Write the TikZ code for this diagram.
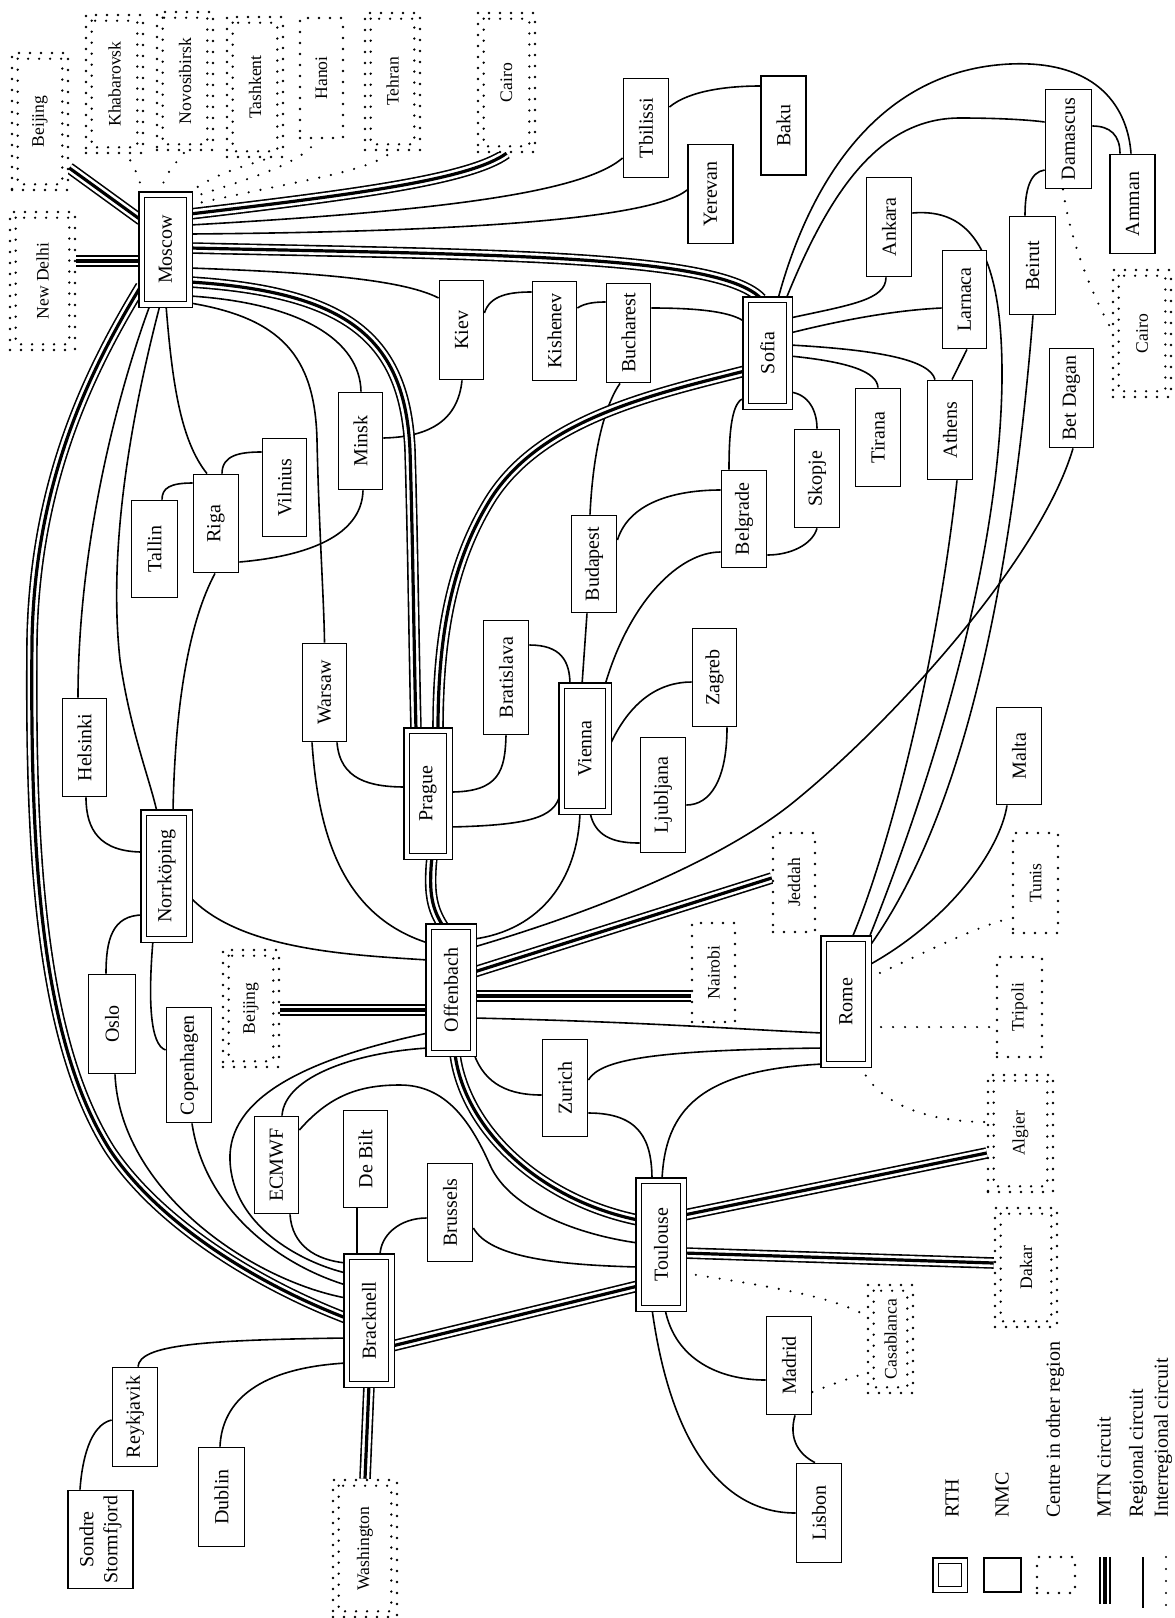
\documentclass[tikz,border=0pt]{standalone}
\usepackage{fontspec}
\setmainfont{Liberation Serif}
\usepackage{graphicx}
\pgfdeclarelayer{bg}
\pgfdeclarelayer{edges}
\pgfsetlayers{bg,edges,main}
\tikzset{
 nmcbox/.style={draw, line width=0.9pt, fill=white, inner sep=0pt, font=\fontsize{10}{12}\selectfont},
 rth/.style={nmcbox, double, double distance=2.2pt, line width=0.75pt},
 dotb/.style={line width=1.3pt, line cap=round, dash pattern=on 0pt off 5.5pt},
 oth/.style={draw, dotb, fill=white, inner sep=0pt, font=\fontsize{8.8}{10.5}\selectfont},
 reg/.style={line width=0.8pt},
 irc/.style={line width=1.2pt, line cap=round, dash pattern=on 0pt off 6pt},
 mtn/.style={line width=5.8pt, postaction={draw=white, line width=4.2pt}, postaction={draw=black, line width=1.6pt}},
 legtext/.style={anchor=south, inner sep=0pt, font=\fontsize{10}{12}\selectfont},
}
\newcommand{\mynb}[7]{\node[#1, minimum width=#5pt, minimum height=#6pt] (#2) at (#3,#4) {\rotatebox{90}{#7}};}
\newcommand{\indots}[1]{\draw[dotb] ([shift={(3.5pt,-3.5pt)}]#1.north west) rectangle ([shift={(-3.5pt,3.5pt)}]#1.south east);}
\begin{document}
\begin{tikzpicture}[x=0.5pt,y=-0.5pt]
\useasboundingbox (0,0) rectangle (1174,1618);
\begin{pgfonlayer}{bg}
\fill[white] (0,0) rectangle (1174,1618);
\end{pgfonlayer}
% ---------- RTH ----------
\mynb{rth}{Moscow}{165.5}{249.5}{23.8}{54.8}{Moscow}
\mynb{rth}{Norrkoping}{166.5}{876}{22.8}{63.3}{Norrköping}
\mynb{rth}{Prague}{428}{793.5}{21.3}{62.8}{Prague}
\mynb{rth}{Vienna}{585}{748.5}{23.3}{62.8}{Vienna}
\mynb{rth}{Sofia}{767.5}{353}{21.8}{53.3}{Sofia}
\mynb{rth}{Offenbach}{451}{990}{22.3}{63.3}{Offenbach}
\mynb{rth}{Rome}{846}{1001.5}{22.3}{62.8}{Rome}
\mynb{rth}{Toulouse}{661}{1244.5}{22.3}{63.8}{Toulouse}
\mynb{rth}{Bracknell}{369}{1320.5}{22.3}{63.8}{Bracknell}
% ---------- NMC ----------
\mynb{nmcbox}{Tbilissi}{646}{128}{22.5}{49.5}{Tbilissi}
\mynb{nmcbox}{Baku}{783.5}{125.5}{22.5}{49.5}{Baku}
\mynb{nmcbox}{Yerevan}{710.5}{194}{22.5}{49.5}{Yerevan}
\mynb{nmcbox}{Damascus}{1068.5}{139}{23}{49.5}{Damascus}
\mynb{nmcbox}{Amman}{1132.5}{204}{22.5}{49.5}{Amman}
\mynb{nmcbox}{Ankara}{889}{227}{22.5}{49.5}{Ankara}
\mynb{nmcbox}{Beirut}{1032.5}{265.5}{23}{49}{Beirut}
\mynb{nmcbox}{Larnaca}{964.5}{299.5}{22}{49}{Larnaca}
\mynb{nmcbox}{Kiev}{461.5}{330}{22}{49.5}{Kiev}
\mynb{nmcbox}{Kishenev}{554.5}{331}{22}{49.5}{Kishenev}
\mynb{nmcbox}{Bucharest}{628.5}{333}{22}{49.5}{Bucharest}
\mynb{nmcbox}{BetDagan}{1071.5}{398}{22}{49.5}{Bet Dagan}
\mynb{nmcbox}{Athens}{950}{430}{22.5}{49.5}{Athens}
\mynb{nmcbox}{Tirana}{878}{437.5}{22.5}{49}{Tirana}
\mynb{nmcbox}{Skopje}{817}{478.5}{22.5}{49}{Skopje}
\mynb{nmcbox}{Minsk}{360.5}{441}{22}{48.5}{Minsk}
\mynb{nmcbox}{Vilnius}{284.5}{487.5}{22}{49}{Vilnius}
\mynb{nmcbox}{Riga}{216}{523.5}{22.5}{49}{Riga}
\mynb{nmcbox}{Tallin}{154.5}{549}{23}{48.5}{Tallin}
\mynb{nmcbox}{Belgrade}{744}{519}{22.5}{48.5}{Belgrade}
\mynb{nmcbox}{Budapest}{594}{564}{22.5}{48.5}{Budapest}
\mynb{nmcbox}{Bratislava}{506}{677.5}{22.5}{57}{Bratislava}
\mynb{nmcbox}{Zagreb}{714.5}{677.5}{22}{49}{Zagreb}
\mynb{nmcbox}{Warsaw}{324.5}{692.5}{22}{49}{Warsaw}
\mynb{nmcbox}{Helsinki}{84.5}{747.5}{22}{49}{Helsinki}
\mynb{nmcbox}{Malta}{1019}{756}{22.5}{48.5}{Malta}
\mynb{nmcbox}{Ljubljana}{663}{795}{22.5}{57.5}{Ljubljana}
\mynb{nmcbox}{Oslo}{112}{1024}{23.5}{49.5}{Oslo}
\mynb{nmcbox}{Copenhagen}{189}{1065}{22.5}{57.5}{Copenhagen}
\mynb{nmcbox}{Zurich}{565}{1088}{22.5}{48.5}{Zurich}
\mynb{nmcbox}{ECMWF}{276.5}{1165}{22}{48.5}{ECMWF}
\mynb{nmcbox}{DeBilt}{365.5}{1159}{22}{48.5}{De Bilt}
\mynb{nmcbox}{Brussels}{450}{1212.5}{22.5}{49}{Brussels}
\mynb{nmcbox}{Madrid}{789}{1365.5}{22.5}{49}{Madrid}
\mynb{nmcbox}{Lisbon}{819}{1513}{22.5}{49.5}{Lisbon}
\mynb{nmcbox}{Reykjavik}{135}{1417}{22.5}{49.5}{Reykjavik}
\mynb{nmcbox}{Dublin}{221.5}{1497}{23}{49.5}{Dublin}
\mynb{nmcbox}{Sondre}{100.5}{1539.5}{32.6}{49}{\begin{tabular}{@{}c@{}}Sondre\\Stormfjord\end{tabular}}
% ---------- other regions ----------
\mynb{oth}{Beijing}{40}{121.5}{28}{68.5}{Beijing}\indots{Beijing}
\mynb{oth}{Khabarovsk}{114.5}{84}{28.5}{69}{Khabarovsk}\indots{Khabarovsk}
\mynb{oth}{Novosibirsk}{185}{81}{28}{69}{Novosibirsk}\indots{Novosibirsk}
\mynb{oth}{Tashkent}{255}{87}{28}{70}{Tashkent}\indots{Tashkent}
\mynb{oth}{Hanoi}{321.5}{78}{21.5}{60}{Hanoi}
\mynb{oth}{Tehran}{392.5}{81.5}{27.5}{68.5}{Tehran}\indots{Tehran}
\mynb{oth}{Cairo}{506.5}{82.5}{28.5}{69.5}{Cairo}\indots{Cairo}
\mynb{oth}{NewDelhi}{42.5}{281}{32.5}{69}{New Delhi}\indots{NewDelhi}
\mynb{oth}{BeijingB}{251}{1008.5}{28}{58.5}{Beijing}\indots{BeijingB}
\mynb{oth}{Jeddah}{794}{882.5}{21}{49.5}{Jeddah}
\mynb{oth}{Nairobi}{713.5}{972.5}{21.5}{49.5}{Nairobi}
\mynb{oth}{Tunis}{1035.5}{883}{22.5}{50}{Tunis}
\mynb{oth}{Tripoli}{1019.5}{1007}{22.5}{50}{Tripoli}
\mynb{oth}{Algier}{1020.5}{1133.5}{32.5}{58.5}{Algier}\indots{Algier}
\mynb{oth}{Dakar}{1026}{1267.5}{31}{59.5}{Dakar}\indots{Dakar}
\mynb{oth}{Casablanca}{890.5}{1339}{22.5}{54}{Casablanca}\indots{Casablanca}
\mynb{oth}{CairoB}{1142}{333.5}{29}{63.5}{Cairo}\indots{CairoB}
\mynb{oth}{Washington}{365}{1548.5}{32}{68.5}{Washington}\indots{Washington}
% ---------- legend ----------
\node[rth, minimum width=14.3pt, minimum height=14.3pt] (LRTH) at (950,1575) {};
\node[nmcbox, minimum width=18.6pt, minimum height=17pt] (LNMC) at (1002.5,1575) {};
\node[oth, minimum width=19pt, minimum height=18pt] (LOTH) at (1056,1575) {};
\node[legtext] (tRTH) at (952,1518) {\rotatebox{90}{RTH}};
\node[legtext] (tNMC) at (1002,1518) {\rotatebox{90}{NMC}};
\node[legtext] (tOTH) at (1055,1518) {\rotatebox{90}{Centre in other region}};
\node[legtext] (tMTN) at (1104,1518) {\rotatebox{90}{MTN circuit}};
\node[legtext] (tREG) at (1138,1518) {\rotatebox{90}{Regional circuit}};
\node[legtext] (tIRC) at (1163,1518) {\rotatebox{90}{Interregional circuit}};
\coordinate (m1) at (1105,1557); \coordinate (m2) at (1105,1604);
\coordinate (r1) at (1143,1557); \coordinate (r2) at (1143,1608);
\coordinate (i1) at (1166,1557); \coordinate (i2) at (1166,1614);
\begin{pgfonlayer}{edges}
% ---------- regional circuits ----------
\draw[reg] (Moscow.east |- 0,225) .. controls (420,212) and (580,195) .. (Tbilissi.west |- 0,158);
\draw[reg] (Moscow.east |- 0,234) .. controls (450,232) and (650,220) .. (Yerevan.west |- 0,190);
\draw[reg] (Moscow.east |- 0,268) .. controls (300,272) and (400,278) .. (Kiev.west |- 0,298);
\draw[reg] (Moscow.east |- 0,296) .. controls (300,303) and (360,340) .. (Minsk.north -| 361,0);
\draw[reg] (Moscow.east |- 0,303) .. controls (280,318) and (315,355) .. (317,440) .. controls (319,530) and (324,600) .. (Warsaw.north);
\draw[reg] (Moscow.south -| 150,0) .. controls (115,400) and (78,550) .. (Helsinki.north -| 78,0);
\draw[reg] (Moscow.south -| 160,0) .. controls (130,420) and (108,550) .. (120,660) .. controls (130,730) and (150,780) .. (Norrkoping.north -| 157,0);
\draw[reg] (Moscow.south -| 166,0) .. controls (172,380) and (180,440) .. (Riga.north -| 207,0);
\draw[reg] (Riga.west |- 0,483) .. controls (170,483) and (162,488) .. (Tallin.north -| 162,0);
\draw[reg] (Riga.north -| 222,0) .. controls (222,455) and (240,452) .. (Vilnius.west |- 0,452);
\draw[reg] (Riga.east |- 0,562) .. controls (320,555) and (362,530) .. (Minsk.south -| 363,0);
\draw[reg] (Riga.south -| 215,0) .. controls (190,620) and (175,700) .. (Norrkoping.north -| 173,0);
\draw[reg] (Helsinki.south -| 86,0) .. controls (86,830) and (100,852) .. (Norrkoping.west |- 0,852);
\draw[reg] (Norrkoping.west |- 0,915) .. controls (112,915) and (106,940) .. (Oslo.north -| 106,0);
\draw[reg] (Norrkoping.south -| 153,0) .. controls (148,1000) and (150,1045) .. (Copenhagen.west |- 0,1050);
\draw[reg] (Norrkoping.east |- 0,897) .. controls (240,950) and (350,955) .. (Offenbach.west |- 0,960);
\draw[reg] (Warsaw.south -| 312,0) .. controls (318,830) and (340,915) .. (Offenbach.west |- 0,943);
\draw[reg] (Warsaw.south -| 337,0) .. controls (340,780) and (370,787) .. (Prague.west |- 0,787);
\draw[reg] (Prague.east |- 0,792) .. controls (500,792) and (505,770) .. (Bratislava.south);
\draw[reg] (Bratislava.east |- 0,645) .. controls (560,645) and (570,660) .. (Vienna.north -| 570,0);
\draw[reg] (Prague.east |- 0,827) .. controls (540,825) and (557,815) .. (Vienna.west |- 0,790);
\draw[reg] (Vienna.south -| 580,0) .. controls (578,880) and (540,930) .. (Offenbach.east |- 0,939);
\draw[reg] (Vienna.north -| 582,0) -- (Budapest.south -| 587,0);
\draw[reg] (Vienna.north -| 605,0) .. controls (630,600) and (680,552) .. (Belgrade.west |- 0,552);
\draw[reg] (Vienna.east |- 0,747) .. controls (630,700) and (660,682) .. (Zagreb.west |- 0,682);
\draw[reg] (Vienna.south -| 590,0) .. controls (595,840) and (620,843) .. (Ljubljana.west |- 0,843);
\draw[reg] (Zagreb.south -| 727,0) .. controls (727,780) and (710,805) .. (Ljubljana.east |- 0,805);
\draw[reg] (Budapest.north -| 590,0) .. controls (593,450) and (605,405) .. (Bucharest.south -| 620,0);
\draw[reg] (Budapest.east |- 0,540) .. controls (630,500) and (680,490) .. (Belgrade.west |- 0,490);
\draw[reg] (Belgrade.north -| 729,0) .. controls (729,430) and (732,400) .. (Sofia.west |- 0,398);
\draw[reg] (Belgrade.east |- 0,555) .. controls (790,555) and (812,545) .. (Skopje.south);
\draw[reg] (Sofia.east |- 0,392) .. controls (808,394) and (817,410) .. (Skopje.north);
\draw[reg] (Sofia.east |- 0,356) .. controls (850,362) and (877,372) .. (Tirana.north);
\draw[reg] (Sofia.east |- 0,345) .. controls (880,350) and (930,360) .. (Athens.north -| 935,0);
\draw[reg] (Sofia.east |- 0,333) .. controls (850,318) and (900,310) .. (Larnaca.west |- 0,308);
\draw[reg] (Larnaca.south -| 967,0) -- (Athens.north -| 952,0);
\draw[reg] (Sofia.east |- 0,318) .. controls (850,305) and (886,300) .. (Ankara.south -| 886,0);
\draw[reg] (Sofia.north -| 786,0) .. controls (830,190) and (880,118) .. (960,118) .. controls (1000,118) and (1030,120) .. (Damascus.west |- 0,122);
\draw[reg] (Sofia.north -| 778,0) .. controls (810,180) and (880,70) .. (1010,64) .. controls (1100,60) and (1128,110) .. (Amman.north -| 1131,0);
\draw[reg] (Bucharest.east |- 0,308) .. controls (700,308) and (732,312) .. (Sofia.west |- 0,322);
\draw[reg] (Kishenev.east |- 0,308) .. controls (585,303) and (595,302) .. (Bucharest.west |- 0,302);
\draw[reg] (Kiev.east |- 0,313) .. controls (490,295) and (510,292) .. (Kishenev.west |- 0,292);
\draw[reg] (Kiev.south -| 462,0) .. controls (458,420) and (430,437) .. (Minsk.east |- 0,438);
\draw[reg] (Tbilissi.east |- 0,107) .. controls (690,90) and (730,86) .. (Baku.west |- 0,86);
\draw[reg] (Damascus.east |- 0,126) .. controls (1110,126) and (1120,135) .. (Amman.north -| 1120,0);
\draw[reg] (Damascus.west |- 0,170) .. controls (1030,172) and (1025,190) .. (Beirut.north -| 1025,0);
\draw[reg] (Rome.north -| 852,0) .. controls (885,860) and (935,680) .. (Athens.south -| 957,0);
\draw[reg] (Rome.north -| 869,0) .. controls (940,760) and (1000,550) .. (1002,380) .. controls (1003,250) and (970,208) .. (Ankara.east |- 0,213);
\draw[reg] (Rome.east |- 0,947) .. controls (960,820) and (1010,600) .. (Beirut.south -| 1033,0);
\draw[reg] (Rome.east |- 0,965) .. controls (950,920) and (1000,850) .. (Malta.south -| 1007,0);
\draw[reg] (Offenbach.east |- 0,947) .. controls (600,910) and (720,860) .. (790,805) .. controls (890,725) and (1040,560) .. (BetDagan.south -| 1073,0);
\draw[reg] (Offenbach.east |- 0,1018) .. controls (650,1022) and (750,1030) .. (Rome.west |- 0,1033);
\draw[reg] (Offenbach.south east) .. controls (485,1085) and (510,1095) .. (Zurich.west |- 0,1095);
\draw[reg] (Zurich.east |- 0,1080) .. controls (600,1060) and (650,1050) .. (Rome.west |- 0,1048);
\draw[reg] (Zurich.east |- 0,1113) .. controls (640,1113) and (652,1140) .. (Toulouse.north -| 652,0);
\draw[reg] (Toulouse.north -| 662,0) .. controls (665,1110) and (700,1070) .. (Rome.west |- 0,1064);
\draw[reg] (Brussels.east |- 0,1228) .. controls (490,1258) and (560,1265) .. (Toulouse.west |- 0,1267);
\draw[reg] (Brussels.west |- 0,1218) .. controls (400,1218) and (380,1235) .. (Bracknell.north -| 380,0);
\draw[reg] (ECMWF.east |- 0,1130) .. controls (330,1095) and (360,1085) .. (400,1085) .. controls (445,1085) and (470,1120) .. (490,1165) .. controls (510,1210) and (580,1235) .. (Toulouse.west |- 0,1243);
\draw[reg] (ECMWF.north -| 282,0) .. controls (285,1075) and (360,1052) .. (Offenbach.west |- 0,1048);
\draw[reg] (Offenbach.west |- 0,1033) .. controls (300,1060) and (228,1100) .. (230,1160) .. controls (232,1225) and (300,1262) .. (Bracknell.west |- 0,1273);
\draw[reg] (ECMWF.south -| 290,0) .. controls (292,1245) and (315,1260) .. (Bracknell.west |- 0,1263);
\draw[reg] (DeBilt.south -| 357,0) -- (Bracknell.north -| 357,0);
\draw[reg] (Copenhagen.south -| 192,0) .. controls (205,1210) and (280,1265) .. (Bracknell.west |- 0,1285);
\draw[reg] (Oslo.south -| 115,0) .. controls (120,1190) and (250,1280) .. (Bracknell.west |- 0,1298);
\draw[reg] (Bracknell.west |- 0,1338) .. controls (200,1340) and (140,1345) .. (Reykjavik.north -| 138,0);
\draw[reg] (Reykjavik.west |- 0,1420) .. controls (90,1425) and (82,1460) .. (Sondre.north -| 80,0);
\draw[reg] (Bracknell.west |- 0,1363) .. controls (260,1368) and (222,1400) .. (Dublin.north -| 220,0);
\draw[reg] (Toulouse.south -| 665,0) .. controls (675,1360) and (720,1380) .. (Madrid.west |- 0,1380);
\draw[reg] (Toulouse.south -| 652,0) .. controls (670,1440) and (720,1513) .. (Lisbon.west |- 0,1513);
\draw[reg] (Madrid.south -| 795,0) .. controls (788,1440) and (800,1455) .. (Lisbon.north -| 815,0);
\draw[reg, line width=1pt] (r1) -- (r2);
% ---------- MTN circuits ----------
\draw[mtn] (Beijing.east |- 0,168) -- (Moscow.west |- 0,220);
\draw[mtn] (NewDelhi.east |- 0,261) -- (Moscow.west |- 0,261);
\draw[mtn] (Moscow.east |- 0,214) .. controls (350,195) and (470,180) .. (Cairo.south);
\draw[mtn] (Moscow.east |- 0,248) .. controls (500,255) and (720,255) .. ([xshift=-3pt]Sofia.north);
\draw[mtn] (Moscow.east |- 0,282) .. controls (350,292) and (405,340) .. (410,450) .. controls (413,550) and (414,650) .. ([xshift=-6pt]Prague.north);
\draw[mtn] (Sofia.west |- 0,371) .. controls (650,395) and (540,420) .. (490,500) .. controls (450,565) and (438,640) .. ([xshift=5pt]Prague.north);
\draw[mtn] ([xshift=2pt]Prague.south) .. controls (428,895) and (433,910) .. ([xshift=-4pt]Offenbach.north);
\draw[mtn] (Offenbach.east |- 0,972) -- (Jeddah.west |- 0,878);
\draw[mtn] (Offenbach.east |- 0,996) -- (Nairobi.west |- 0,996);
\draw[mtn] (BeijingB.east |- 0,1010) -- (Offenbach.west |- 0,1010);
\draw[mtn] ([xshift=2pt]Offenbach.south) .. controls (465,1130) and (540,1200) .. (Toulouse.west |- 0,1220);
\draw[mtn] (Toulouse.east |- 0,1215) -- (Algier.west |- 0,1153);
\draw[mtn] (Toulouse.east |- 0,1253) -- (Dakar.west |- 0,1263);
\draw[mtn] (Bracknell.east |- 0,1346) -- (Toulouse.west |- 0,1286);
\draw[mtn] (Bracknell.south) -- (Washington.north);
\draw[mtn] (Moscow.west |- 0,286) .. controls (90,370) and (35,480) .. (32,640) .. controls (30,850) and (40,1040) .. (110,1150) .. controls (160,1225) and (260,1285) .. (Bracknell.west |- 0,1318);
\draw[mtn] (m1) -- (m2);
% ---------- interregional circuits ----------
\draw[irc] (Moscow.north -| 143,0) .. controls (138,175) .. (Khabarovsk.south -| 127,0);
\draw[irc] (Moscow.north -| 160,0) .. controls (165,170) and (180,160) .. (Novosibirsk.south -| 185,0);
\draw[irc] (Moscow.north -| 188,0) .. controls (215,172) and (250,165) .. (Tashkent.south -| 268,0);
\draw[irc] (Moscow.east |- 0,198) .. controls (250,178) and (300,165) .. (Hanoi.south -| 318,0);
\draw[irc] (Moscow.east |- 0,205) .. controls (300,180) and (370,172) .. (Tehran.south -| 392,0);
\draw[irc] (Damascus.south -| 1063,0) .. controls (1070,240) and (1090,290) .. (CairoB.west |- 0,330);
\draw[irc] (Rome.east |- 0,978) .. controls (930,950) and (980,925) .. (Tunis.west |- 0,918);
\draw[irc] (Rome.east |- 0,1027) -- (Tripoli.west |- 0,1027);
\draw[irc] (Rome.south -| 860,0) .. controls (880,1110) and (940,1122) .. (Algier.west |- 0,1122);
\draw[irc] (Toulouse.east |- 0,1273) .. controls (760,1285) and (830,1295) .. (Casablanca.west |- 0,1316);
\draw[irc] (Madrid.east |- 0,1392) .. controls (830,1385) and (850,1378) .. (Casablanca.west |- 0,1373);
\draw[irc] (i1) -- (i2);
\end{pgfonlayer}
\end{tikzpicture}
\end{document}
